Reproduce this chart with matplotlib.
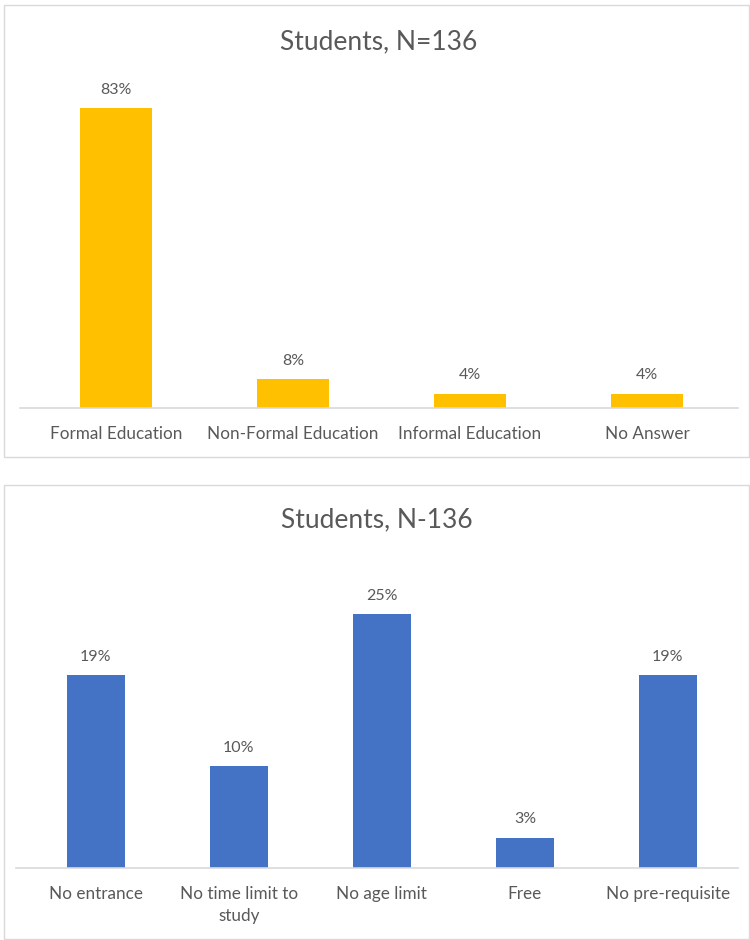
import matplotlib.pyplot as plt
from matplotlib.patches import Rectangle

# Survey results, students (N=136)
edu_types = ["Formal Education", "Non-Formal Education", "Informal Education", "No Answer"]
edu_pct = [83, 8, 4, 4]

features = ["No entrance", "No time limit to\nstudy", "No age limit", "Free", "No pre-requisite"]
feature_pct = [19, 10, 25, 3, 19]

plt.rcParams['font.family'] = ['Lato', 'DejaVu Sans']
text_col = "#595959"
line_col = "#D9D9D9"

W, H = 750, 940
fig = plt.figure(figsize=(W / 100, H / 100), dpi=100)


def px_box(x0, y0, x1, y1):
    # pixel box (top-left origin) -> figure fraction [left, bottom, width, height]
    return [x0 / W, 1 - y1 / H, (x1 - x0) / W, (y1 - y0) / H]


# chart frames
for x0, y0, x1, y1 in [(4, 5, 749, 457), (4, 485, 749, 939)]:
    l, b, w, h = px_box(x0, y0, x1, y1)
    fig.patches.append(Rectangle((l, b), w, h, transform=fig.transFigure,
                                 fill=False, edgecolor=line_col, linewidth=1))


def bar_chart(box, labels, values, color, ymax, xlim, title, title_y):
    ax = fig.add_axes(px_box(*box))
    x = range(len(labels))
    bars = ax.bar(x, values, width=0.41, color=color)
    ax.set_xlim(*xlim)
    ax.set_ylim(0, ymax)
    for b, v in zip(bars, values):
        ax.annotate(f"{v}%", (b.get_x() + b.get_width() / 2, v),
                    xytext=(0, 8), textcoords="offset points",
                    ha="center", va="bottom", fontsize=11.5, color=text_col)
    ax.set_xticks(list(x))
    ax.set_xticklabels(labels, fontsize=12.3, color=text_col, linespacing=1.45)
    ax.tick_params(axis="x", length=0, pad=13)
    ax.set_yticks([])
    for s in ["top", "left", "right"]:
        ax.spines[s].set_visible(False)
    ax.spines["bottom"].set_color(line_col)
    ax.spines["bottom"].set_linewidth(1.2)
    fig.text(0.5 * (box[0] + box[2]) / W, 1 - title_y / H, title,
             ha="center", va="center", fontsize=19, color=text_col)
    return ax


bar_chart((20, 83, 738, 408), edu_types, edu_pct, "#FFC000", 90,
          (-0.542, 3.514), "Students, N=136", 42)
bar_chart((16, 563, 738, 868), features, feature_pct, "#4472C4", 30,
          (-0.559, 4.49), "Students, N-136", 520)

fig.savefig("out.png", dpi=100, facecolor="white")
